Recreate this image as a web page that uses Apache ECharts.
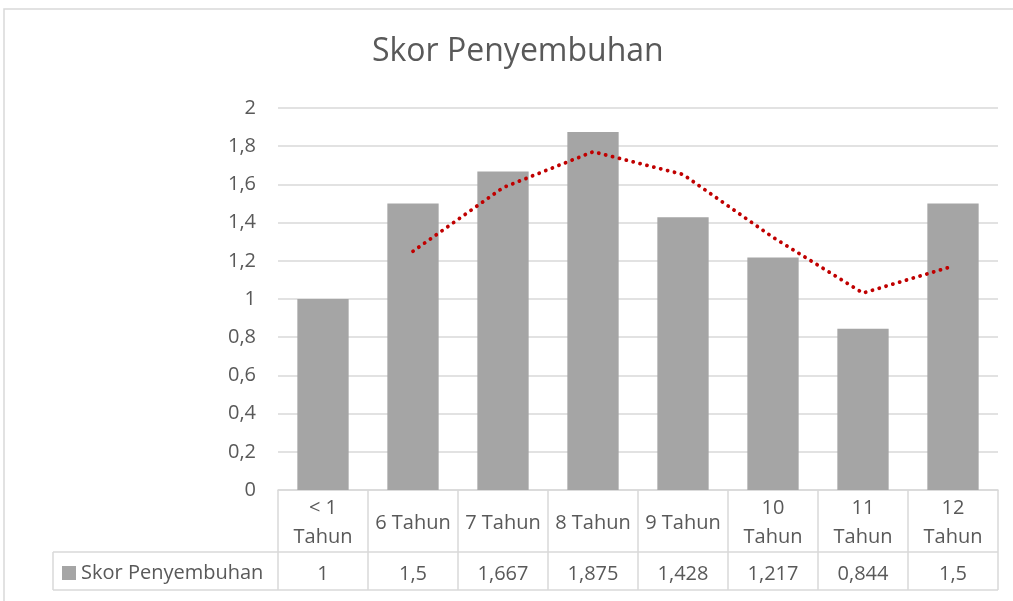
<!DOCTYPE html>
<html>
<head>
<meta charset="utf-8">
<script src="https://cdn.jsdelivr.net/npm/echarts@6/dist/echarts.min.js"></script>
<style>
  html, body { margin: 0; padding: 0; background: #fff; }
  #chart { width: 1013px; height: 601px; }
</style>
</head>
<body>
<div id="chart"></div>
<script>
// data
var categories = ['< 1\nTahun', '6 Tahun', '7 Tahun', '8 Tahun', '9 Tahun', '10\nTahun', '11\nTahun', '12\nTahun'];
var skorValues = [1, 1.5, 1.667, 1.875, 1.428, 1.217, 0.844, 1.5];
// trend line (2 per. moving average)
var trendValues = [null, 1.25, 1.583, 1.771, 1.652, 1.323, 1.031, 1.172];

var FONT = 'Open Sans';
var TXT = '#595959';
var LINE = '#D9D9D9';

function comma(v) { return String(v).replace('.', ','); }

var chart = echarts.init(document.getElementById('chart'));

chart.setOption({
  animation: false,
  textStyle: { fontFamily: FONT },
  title: {
    text: 'Skor Penyembuhan',
    left: 367,
    top: 31,
    textStyle: { fontFamily: FONT, fontSize: 32, fontWeight: 'normal', color: TXT }
  },
  grid: { left: 278, right: 15, top: 108, bottom: 111 },
  xAxis: [
    {
      type: 'category',
      data: categories,
      axisLine: { show: true, lineStyle: { color: LINE, width: 1.5 } },
      axisTick: { show: true, length: 100, lineStyle: { color: LINE, width: 1.5 } },
      axisLabel: {
        interval: 0, margin: 33, verticalAlign: 'middle',
        color: TXT, fontSize: 20, lineHeight: 29, fontFamily: FONT
      }
    },
    {
      type: 'category',
      position: 'bottom',
      data: skorValues.map(comma),
      axisLine: { show: false },
      axisTick: { show: false },
      axisLabel: {
        interval: 0, margin: 84, verticalAlign: 'middle',
        color: TXT, fontSize: 20, fontFamily: FONT
      }
    }
  ],
  yAxis: {
    type: 'value',
    min: 0, max: 2, interval: 0.2,
    axisLine: { show: false },
    axisTick: { show: false },
    axisLabel: {
      margin: 22, color: TXT, fontSize: 20, fontFamily: FONT,
      formatter: function (v) { return comma(+v.toFixed(1)); }
    },
    splitLine: { lineStyle: { color: LINE, width: 1.5 } }
  },
  series: [
    {
      name: 'Skor Penyembuhan',
      type: 'bar',
      data: skorValues,
      barWidth: '57%',
      itemStyle: { color: '#A5A5A5' }
    },
    {
      name: 'trend',
      type: 'line',
      data: trendValues,
      symbol: 'none',
      lineStyle: { color: '#C00000', width: 3.8, type: [0.1, 7], cap: 'round' }
    }
  ]
});

// table rows / legend cell / outer border
var x1 = chart.convertToPixel({ xAxisIndex: 0 }, categories.length - 1) + 45;
var yRow = 552, yEnd = 590, xLeg = 53;
chart.setOption({
  graphic: [
    { type: 'rect', shape: { x: 4, y: 9, width: 1030, height: 620 }, style: { fill: null, stroke: LINE, lineWidth: 1.5 }, silent: true },
    { type: 'line', shape: { x1: xLeg, y1: yRow, x2: x1, y2: yRow }, style: { stroke: LINE, lineWidth: 1.5 } },
    { type: 'line', shape: { x1: xLeg, y1: yEnd, x2: x1, y2: yEnd }, style: { stroke: LINE, lineWidth: 1.5 } },
    { type: 'line', shape: { x1: xLeg, y1: yRow, x2: xLeg, y2: yEnd }, style: { stroke: LINE, lineWidth: 1.5 } },
    { type: 'rect', shape: { x: 62, y: 566, width: 14, height: 14 }, style: { fill: '#A5A5A5' } },
    { type: 'text', x: 81, y: 573, style: { text: 'Skor Penyembuhan', fill: TXT, fontSize: 20, fontFamily: FONT, verticalAlign: 'middle' } }
  ]
});
</script>
</body>
</html>
